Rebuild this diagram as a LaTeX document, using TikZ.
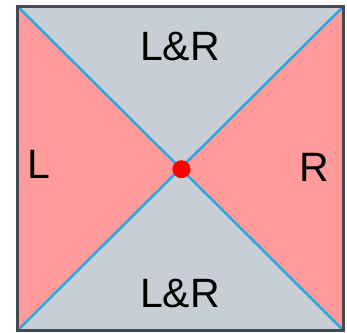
\documentclass[tikz,border=0pt]{standalone}
\usepackage{fontspec}
\setmainfont{Liberation Sans}
\usetikzlibrary{positioning, calc}

\definecolor{sidepink}{HTML}{FF9B9B}
\definecolor{capgray}{HTML}{C8CED6}
\definecolor{diagblue}{HTML}{2AA8E0}
\definecolor{frame}{HTML}{464B51}

\begin{document}
\begin{tikzpicture}[
  x=1pt, y=-1pt,
  lbl/.style={font=\fontsize{41}{45}\selectfont, inner sep=0pt, anchor=center},
  diag/.style={draw=diagblue, line width=2.5pt},
  rim/.style={draw=frame, line width=3pt},
  dot/.style={circle, fill=red, minimum size=18pt, inner sep=0pt}
]
\useasboundingbox (0,0) rectangle (347,332);

\coordinate (tl) at (17.5,6.3);
\coordinate (tr) at (343.5,6.3);
\coordinate (br) at (343.5,330.5);
\coordinate (bl) at (17.5,330.5);
\coordinate (mid) at ($(tl)!0.5!(br)$);

% four triangles
\fill[capgray] (tl) -- (tr) -- (mid) -- cycle;
\fill[capgray] (bl) -- (br) -- (mid) -- cycle;
\fill[sidepink] (tl) -- (bl) -- (mid) -- cycle;
\fill[sidepink] (tr) -- (br) -- (mid) -- cycle;

% diagonals and frame
\draw[diag] (tl) -- (br);
\draw[diag] (tr) -- (bl);
\draw[rim] (tl) rectangle (br);

\node[dot] (centre) at ($(mid)+(1,0.8)$) {};

\node[lbl] (top) at (180,47) {L\&R};
\node[lbl] (bottom) at (180,294) {L\&R};
\node[lbl] (left) at (39,164) {L};
\node[lbl] (right) at (314.5,167.5) {R};

\end{tikzpicture}
\end{document}
